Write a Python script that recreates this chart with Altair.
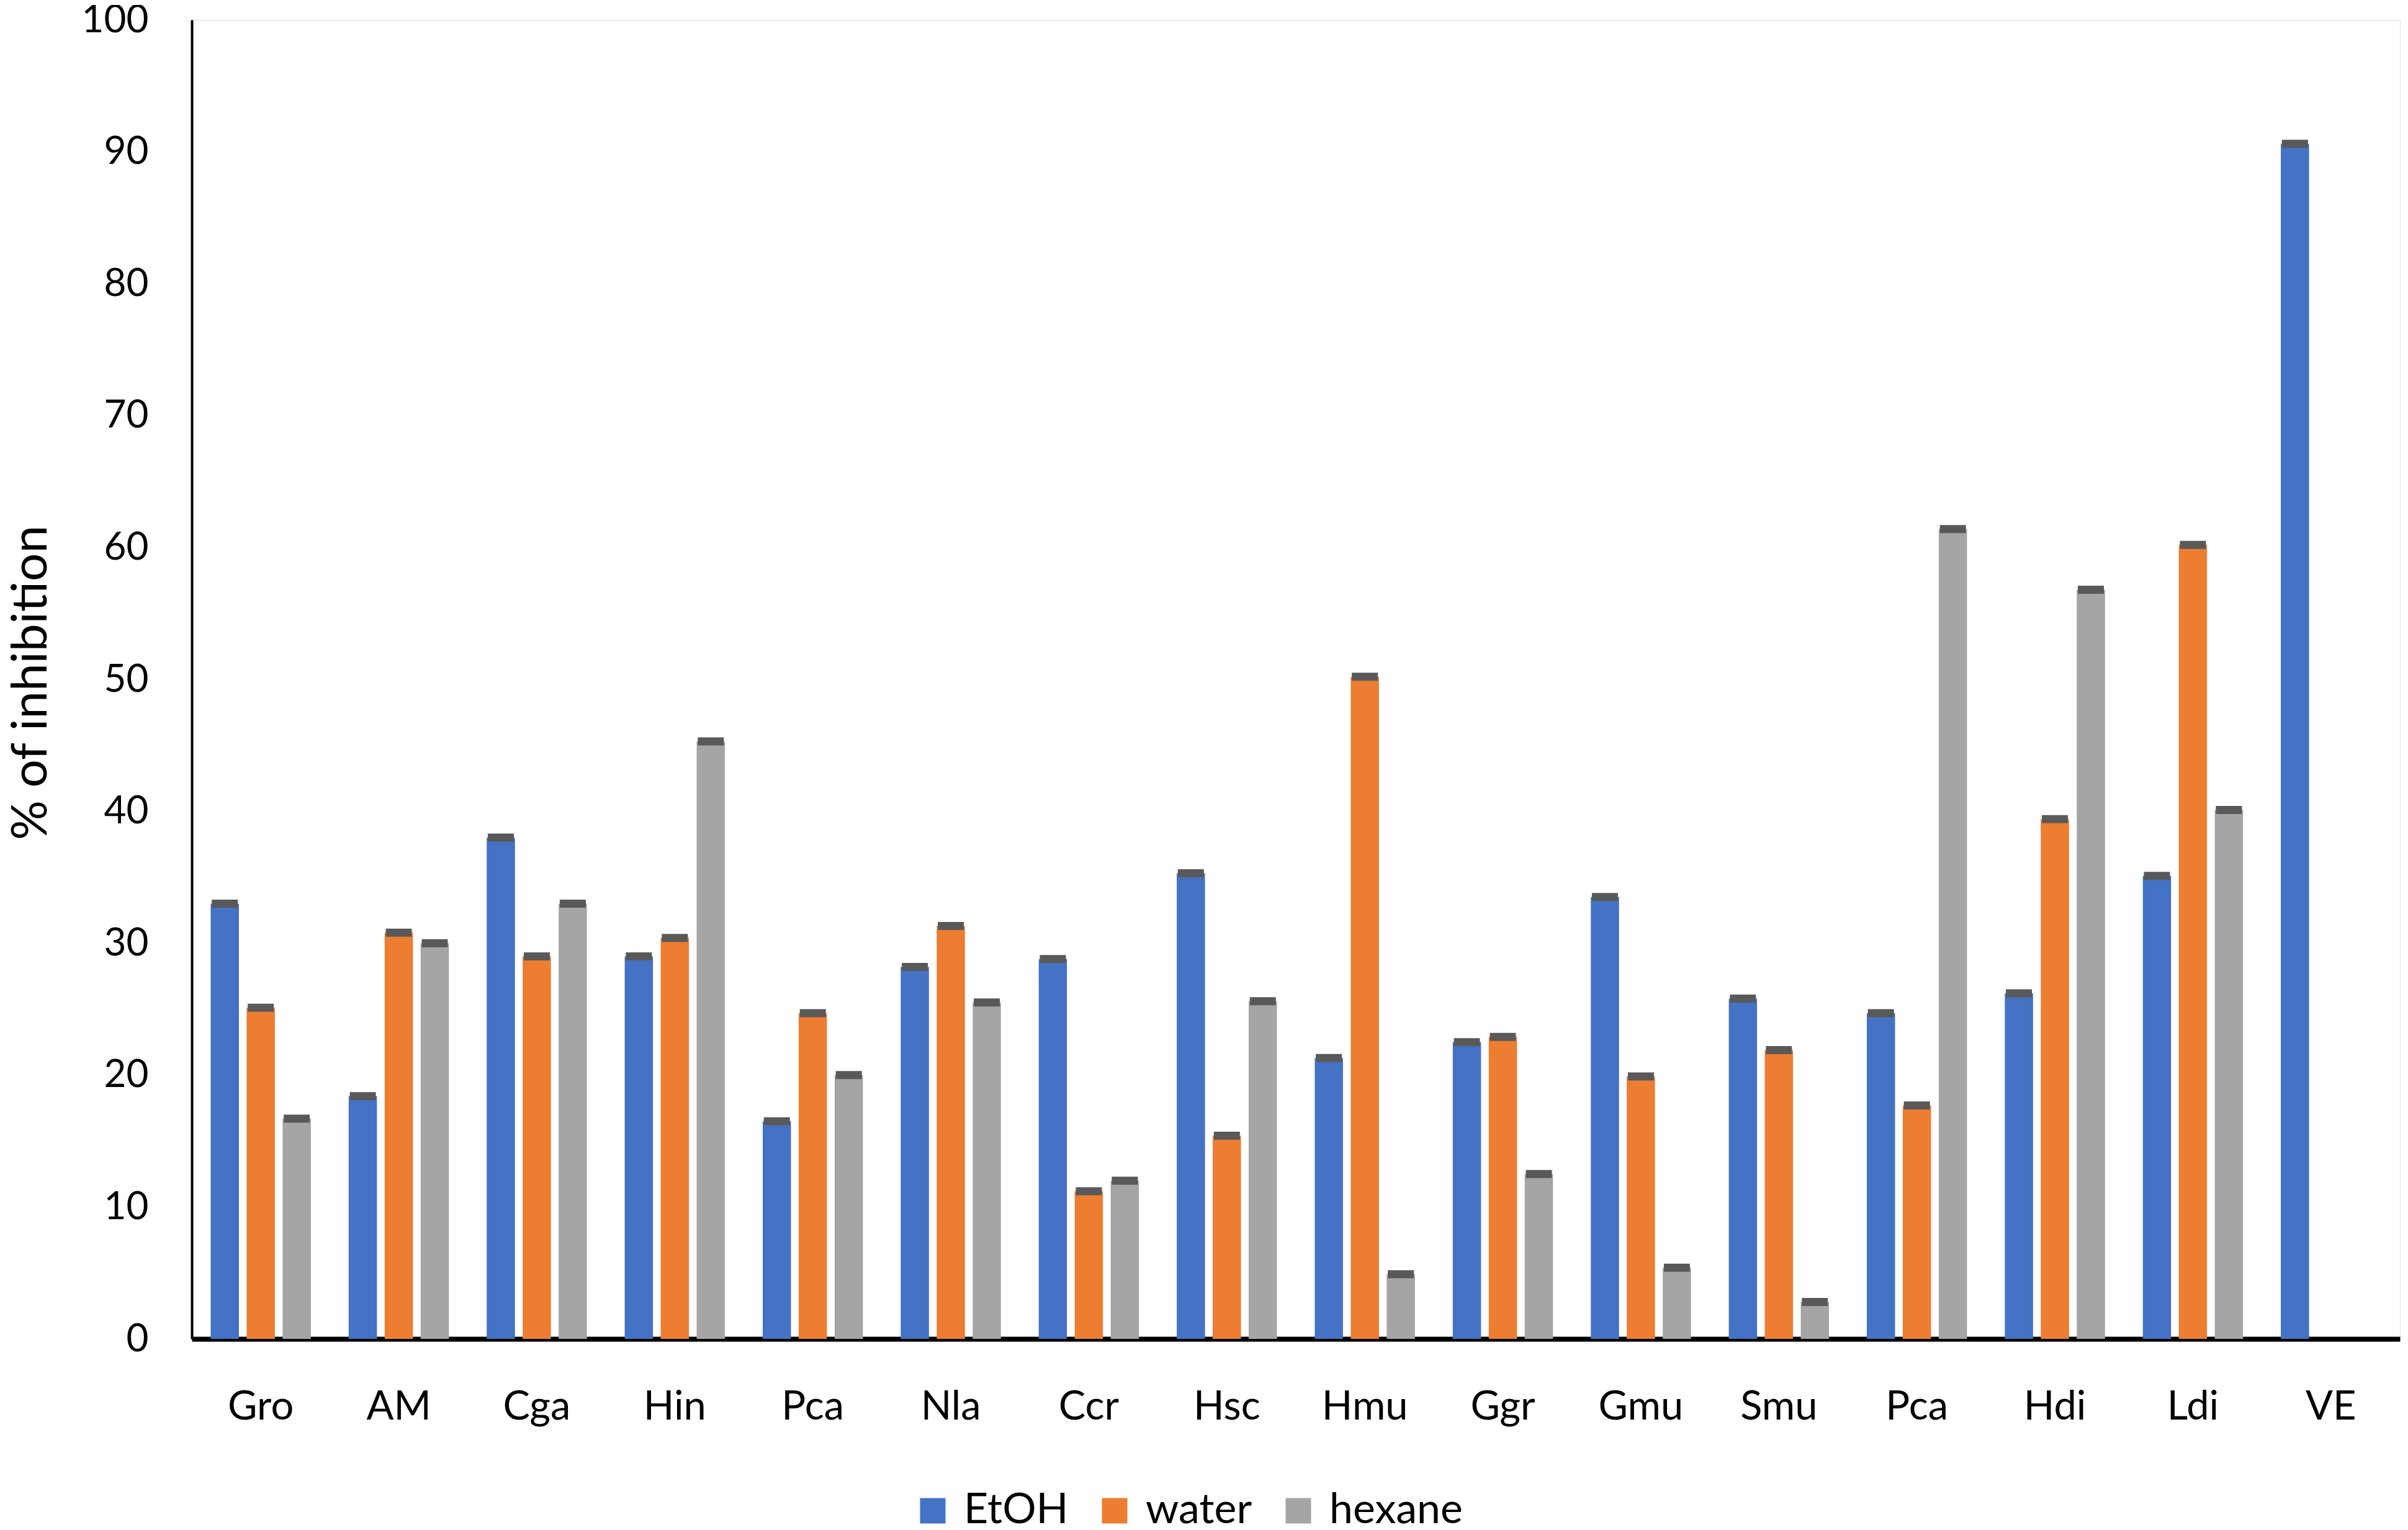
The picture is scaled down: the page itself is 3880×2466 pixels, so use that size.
import altair as alt
import pandas as pd

groups = ["Gro", "AM", "Cga", "Hin", "Pca", "Nla", "Ccr", "Hsc", "Hmu", "Ggr",
          "Gmu", "Smu", "Pca", "Hdi", "Ldi", "VE"]
solvents = ["EtOH", "water", "hexane"]
etoh = [33.0, 18.4, 38.0, 29.0, 16.5, 28.2, 28.8, 35.3, 21.3, 22.5, 33.5, 25.8, 24.7, 26.2, 35.1, 90.6]
water = [25.1, 30.8, 29.0, 30.4, 24.7, 31.3, 11.2, 15.4, 50.2, 22.9, 19.9, 21.9, 17.7, 39.4, 60.2, None]
hexane = [16.7, 30.0, 33.0, 45.3, 20.0, 25.5, 12.0, 25.6, 4.9, 12.5, 5.4, 2.8, 61.4, 56.8, 40.1, None]
colors = ["#4472C4", "#ED7D31", "#A5A5A5"]
y_ticks = [0, 10, 20, 30, 40, 50, 60, 70, 80, 90, 100]

rows = []
for i in range(len(groups)):
    for s, series in zip(solvents, [etoh, water, hexane]):
        if series[i] is not None:
            rows.append({"idx": i, "solvent": s, "value": series[i]})
df = pd.DataFrame(rows)

label_expr = "[" + ",".join("'" + g + "'" for g in groups) + "][datum.value]"

FONT = "Lato"

x_enc = alt.X("idx:O", sort="ascending",
              scale=alt.Scale(paddingInner=0.274, paddingOuter=0.137),
              axis=alt.Axis(title=None, labelExpr=label_expr, labelAngle=0,
                            labelFontSize=65, labelFont=FONT, labelColor="#000000",
                            labelBaseline="alphabetic", labelPadding=129,
                            ticks=False, domainColor="#000000", domainWidth=8))
xoff_enc = alt.XOffset("solvent:N", sort=solvents,
                       scale=alt.Scale(paddingInner=0.215, paddingOuter=0))
y_enc = alt.Y("value:Q",
              scale=alt.Scale(domain=[0, 100], nice=False, zero=True),
              axis=alt.Axis(title="% of inhibition", values=y_ticks, grid=False,
                            ticks=False, labelFontSize=62, labelFont=FONT,
                            labelColor="#000000", labelPadding=70,
                            domainColor="#000000", domainWidth=4,
                            titleFontSize=80, titleFont=FONT, titleFontWeight="normal",
                            titleColor="#000000", titleAngle=270,
                            titleX=-259, titleY=1068, titleBaseline="middle",
                            titleAlign="center"))

bars = alt.Chart(df).mark_bar().encode(
    x=x_enc,
    xOffset=xoff_enc,
    y=y_enc,
    color=alt.Color("solvent:N", sort=solvents,
                    scale=alt.Scale(domain=solvents, range=colors),
                    legend=alt.Legend(title=None, orient="none", direction="horizontal",
                                      legendX=1160, legendY=2369,
                                      symbolType="square", symbolSize=1681,
                                      symbolStrokeWidth=0, labelFontSize=68,
                                      labelFont=FONT, labelColor="#000000",
                                      labelLimit=0,
                                      labelOffset=16, columnPadding=40, padding=0)),
)

caps = alt.Chart(df).mark_tick(color="#595959", thickness=13, size=42, opacity=1).encode(
    x=alt.X("idx:O", sort="ascending"),
    xOffset=alt.XOffset("solvent:N", sort=solvents),
    y=alt.Y("value:Q"),
)

chart = alt.layer(bars, caps).properties(
    width=3558, height=2126,
    padding={"left": 301, "top": 24, "right": 5, "bottom": 300},
    autosize=alt.AutoSizeParams(type="none"),
).configure_view(stroke=None).configure(font=FONT, background="white")

chart.save("out.html", embed_options={"renderer": "svg", "actions": False})
